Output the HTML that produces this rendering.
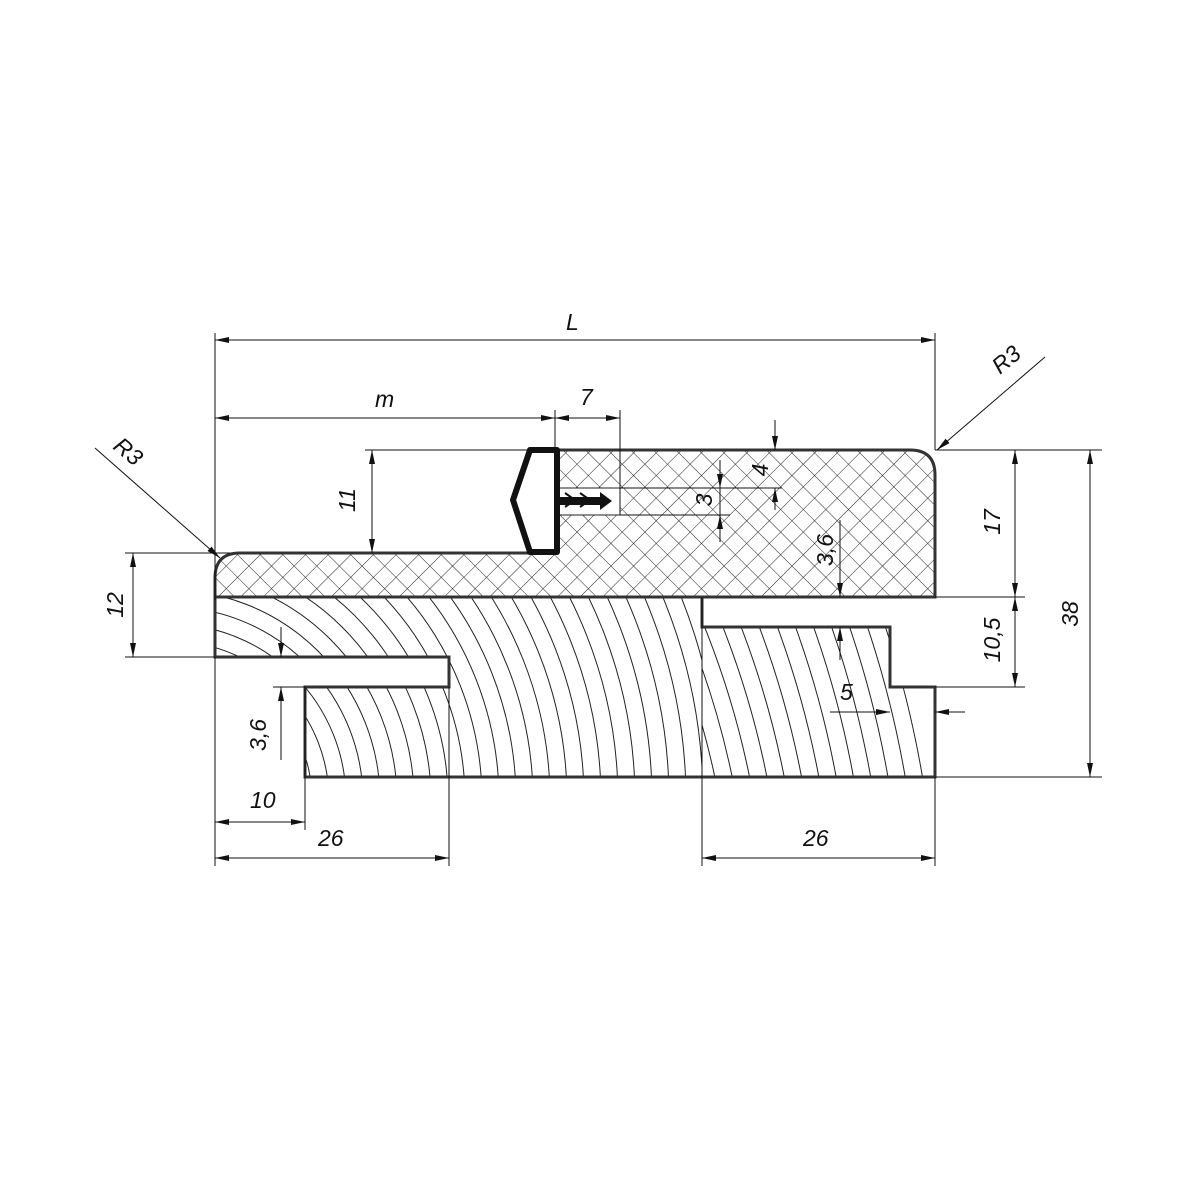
<!DOCTYPE html>
<html><head><meta charset="utf-8"><style>
html,body{margin:0;padding:0;background:#fff;width:1200px;height:1200px;overflow:hidden;}
svg{display:block;}
text{font-family:"Liberation Sans",sans-serif;font-style:italic;font-size:23px;fill:#111;}
</style></head><body>
<svg width="1200" height="1200" viewBox="0 0 1200 1200" xmlns="http://www.w3.org/2000/svg">
<defs>
<pattern id="hx" width="16" height="16" patternUnits="userSpaceOnUse" patternTransform="rotate(45)">
<path d="M0 0H16M0 0V16" stroke="#222" stroke-width="1"/>
</pattern>
<marker id="a" viewBox="0 0 14 6" refX="14" refY="3" markerWidth="14" markerHeight="6" markerUnits="userSpaceOnUse" orient="auto-start-reverse">
<path d="M0 0L14 3L0 6z" fill="#111"/></marker>
<clipPath id="c1"><path d="M215 597V657H449V687H305V777H702V597z"/></clipPath>
<clipPath id="c3"><path d="M305 687H449V777H305z"/></clipPath>
<clipPath id="c2"><path d="M702 597V627H890V687H935V777H702z"/></clipPath>
</defs>
<g fill="none" stroke="#222" stroke-width="1">
<g clip-path="url(#c1)">
<circle cx="170" cy="800" r="74"/><circle cx="170" cy="800" r="91"/><circle cx="170" cy="800" r="108"/><circle cx="170" cy="800" r="125"/><circle cx="170" cy="800" r="142"/><circle cx="170" cy="800" r="159"/><circle cx="170" cy="800" r="176"/><circle cx="170" cy="800" r="193"/><circle cx="170" cy="800" r="210"/><circle cx="170" cy="800" r="227"/><circle cx="170" cy="800" r="244"/><circle cx="170" cy="800" r="261"/><circle cx="170" cy="800" r="278"/><circle cx="170" cy="800" r="295"/><circle cx="170" cy="800" r="312"/><circle cx="170" cy="800" r="329"/><circle cx="170" cy="800" r="346"/><circle cx="170" cy="800" r="363"/><circle cx="170" cy="800" r="380"/><circle cx="170" cy="800" r="397"/><circle cx="170" cy="800" r="414"/><circle cx="170" cy="800" r="431"/><circle cx="170" cy="800" r="448"/><circle cx="170" cy="800" r="465"/><circle cx="170" cy="800" r="482"/><circle cx="170" cy="800" r="499"/><circle cx="170" cy="800" r="516"/><circle cx="170" cy="800" r="533"/><circle cx="170" cy="800" r="550"/>
</g>
<g clip-path="url(#c3)" stroke="#fff" stroke-width="0"></g>
<g clip-path="url(#c2)">
<circle cx="-100" cy="950" r="816"/><circle cx="-100" cy="950" r="833"/><circle cx="-100" cy="950" r="850"/><circle cx="-100" cy="950" r="867"/><circle cx="-100" cy="950" r="884"/><circle cx="-100" cy="950" r="901"/><circle cx="-100" cy="950" r="918"/><circle cx="-100" cy="950" r="935"/><circle cx="-100" cy="950" r="952"/><circle cx="-100" cy="950" r="969"/><circle cx="-100" cy="950" r="986"/><circle cx="-100" cy="950" r="1003"/><circle cx="-100" cy="950" r="1020"/><circle cx="-100" cy="950" r="1037"/>
</g>
</g>
<path d="M555 450H910Q935 450 935 475V597H215V578Q215 553 240 553H555z" fill="url(#hx)" stroke="#333" stroke-width="3"/>
<path d="M215 597V657H449V687H305V777H935V687H890V627H702V597" fill="none" stroke="#333" stroke-width="3"/>
<rect x="557" y="488" width="63" height="27" fill="#fff" stroke="#222" stroke-width="1"/>
<path d="M530 450H557V552H530L513 500z" fill="#fff" stroke="#111" stroke-width="6" stroke-linejoin="round"/>
<path d="M557 497H600V492L612 501L600 510V505H557z" fill="#111"/>
<path d="M565 493L575 500L565 507M580 493L590 500L580 507" stroke="#111" stroke-width="2" fill="none"/>
<g stroke="#111" stroke-width="1" fill="none">
<path d="M215 333V600M935 333V450M555 410V450M620 410V515M365 450H530M620 488H782M620 515H730M935 450H1102M935 597H1025M935 687H1025M935 777H1102M125 553H230M125 657H215M273 687H305M305 687V830M215 657V866M449 687V866M702 597V866M935 777V866"/>
<path d="M215 340H935" marker-start="url(#a)" marker-end="url(#a)" />
<path d="M215 418H555" marker-start="url(#a)" marker-end="url(#a)"/>
<path d="M555 418H620" marker-start="url(#a)" marker-end="url(#a)"/>
<path d="M372 450V553" marker-start="url(#a)" marker-end="url(#a)"/>
<path d="M775 420V450" marker-end="url(#a)"/><path d="M775 510V488" marker-end="url(#a)"/>
<path d="M720 460V488" marker-end="url(#a)"/><path d="M720 542V515" marker-end="url(#a)"/><path d="M720 488V515"/>
<path d="M840 520V597" marker-end="url(#a)"/><path d="M840 660V627" marker-end="url(#a)"/>
<path d="M1015 450V597" marker-start="url(#a)" marker-end="url(#a)"/>
<path d="M1015 597V687" marker-start="url(#a)" marker-end="url(#a)"/>
<path d="M1090 450V777" marker-start="url(#a)" marker-end="url(#a)"/>
<path d="M830 712H890" marker-end="url(#a)"/><path d="M965 712H935" marker-end="url(#a)"/>
<path d="M133 553V657" marker-start="url(#a)" marker-end="url(#a)"/>
<path d="M281 627V657" marker-end="url(#a)"/><path d="M281 760V687" marker-end="url(#a)"/>
<path d="M215 822H305" marker-start="url(#a)" marker-end="url(#a)"/>
<path d="M215 858H449" marker-start="url(#a)" marker-end="url(#a)"/>
<path d="M702 858H935" marker-start="url(#a)" marker-end="url(#a)"/>
<path d="M95 448L220 558" marker-end="url(#a)"/>
<path d="M1045 357L937 450" marker-end="url(#a)"/>
</g>
<text x="566" y="330">L</text>
<text x="375" y="407">m</text>
<text x="580" y="405">7</text>
<text transform="translate(355 500) rotate(-90)" text-anchor="middle">11</text>
<text transform="translate(768 470) rotate(-90)" text-anchor="middle">4</text>
<text transform="translate(712 500) rotate(-90)" text-anchor="middle">3</text>
<text transform="translate(833 550) rotate(-90)" text-anchor="middle">3,6</text>
<text transform="translate(1000 522) rotate(-90)" text-anchor="middle">17</text>
<text transform="translate(1000 640) rotate(-90)" text-anchor="middle">10,5</text>
<text transform="translate(1078 614) rotate(-90)" text-anchor="middle">38</text>
<text x="840" y="700">5</text>
<text transform="translate(123 605) rotate(-90)" text-anchor="middle">12</text>
<text transform="translate(266 735) rotate(-90)" text-anchor="middle">3,6</text>
<text x="250" y="808">10</text>
<text x="318" y="846">26</text>
<text x="803" y="846">26</text>
<text transform="translate(112 448) rotate(40)">R3</text>
<text transform="translate(1000 375) rotate(-40)">R3</text>
</svg>
</body></html>
